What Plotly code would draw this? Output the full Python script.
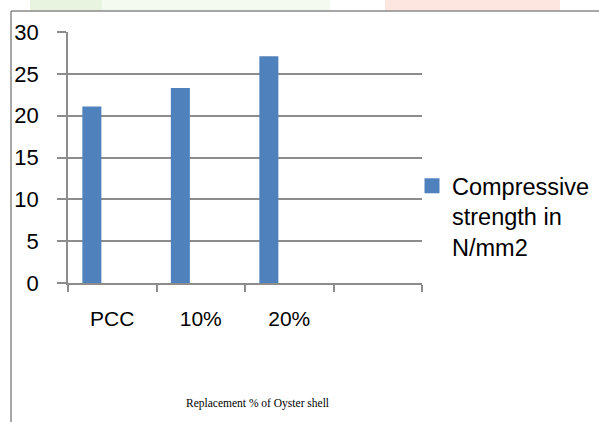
import plotly.graph_objects as go

categories = ["PCC", "10%", "20%", " "]
strength = [21.1, 23.3, 27.1, None]
series_name = "Compressive<br>strength in<br>N/mm2"
x_title = "Replacement % of Oyster shell"
y_ticks = [0, 5, 10, 15, 20, 25, 30]

W, H = 599, 422
L, R, T, B = 68, 177, 32, 139
pw, ph = W - L - R, H - T - B
bar_color = "#4F81BD"

def px_x(x):
    return (x - L) / pw

def px_y(y):
    return (H - B - y) / ph

fig = go.Figure()
fig.add_trace(go.Bar(
    x=categories, y=strength, name=series_name, showlegend=False,
    marker=dict(color=bar_color, line=dict(width=0)),
    width=0.215, offset=-0.338,
))
# legend entry with a larger square swatch, as in the original
fig.add_trace(go.Scatter(
    x=[None], y=[None], mode="markers", name=series_name,
    marker=dict(symbol="square", size=15, color=bar_color),
))

grid = "#8c8c8c"
fig.update_layout(
    width=W, height=H,
    margin=dict(l=L, r=R, t=T, b=B, autoexpand=False),
    paper_bgcolor="white", plot_bgcolor="white",
    font=dict(family="Liberation Sans, Arial, sans-serif", color="black"),
    showlegend=True,
    legend=dict(
        x=px_x(412), y=px_y(164), xanchor="left", yanchor="top",
        font=dict(size=23.5, family="Liberation Sans, Arial, sans-serif"),
        itemsizing="trace", bgcolor="rgba(0,0,0,0)",
        valign="top", tracegroupgap=0,
    ),
    xaxis=dict(
        type="category", categoryarray=categories, categoryorder="array",
        range=[-0.5, 3.5],
        showgrid=False, showline=True, linecolor=grid, linewidth=1.5,
        ticks="outside", tickson="boundaries", ticklen=7, tickcolor=grid, tickwidth=1.5,
        tickfont=dict(size=21), ticklabelstandoff=16,
        fixedrange=True,
    ),
    yaxis=dict(
        range=[0, 30], tickvals=y_ticks,
        showgrid=True, gridcolor=grid, gridwidth=1.5,
        showline=True, linecolor=grid, linewidth=1.5,
        ticks="outside", ticklen=9, tickcolor=grid, tickwidth=1.5,
        tickfont=dict(size=22), ticklabelstandoff=14,
        zeroline=False, fixedrange=True,
    ),
)

# x-axis title placed like the original (slightly right of the plot centre)
fig.add_annotation(text=x_title, xref="paper", yref="paper",
                   x=px_x(257), y=px_y(403), xanchor="center", yanchor="middle",
                   showarrow=False,
                   font=dict(family="Liberation Serif, Times New Roman, serif", size=11.5, color="black"))

# faint background watermark tints visible above the chart frame
for x0, x1, col in [(30, 102, "rgba(205,230,185,0.45)"),
                    (102, 330, "rgba(225,240,215,0.35)"),
                    (385, 560, "rgba(250,200,185,0.45)")]:
    fig.add_shape(type="rect", xref="paper", yref="paper", layer="below",
                  x0=px_x(x0), x1=px_x(x1), y0=px_y(11), y1=px_y(-2),
                  line=dict(width=0), fillcolor=col)

# outer chart border (top and left edges visible)
fig.add_shape(type="line", xref="paper", yref="paper",
              x0=px_x(11), x1=px_x(W + 5), y0=px_y(11), y1=px_y(11),
              line=dict(color="#8a8a8a", width=1.5))
fig.add_shape(type="line", xref="paper", yref="paper",
              x0=px_x(11), x1=px_x(11), y0=px_y(11), y1=px_y(H + 5),
              line=dict(color="#8a8a8a", width=1.5))

fig.write_html("out.html")
